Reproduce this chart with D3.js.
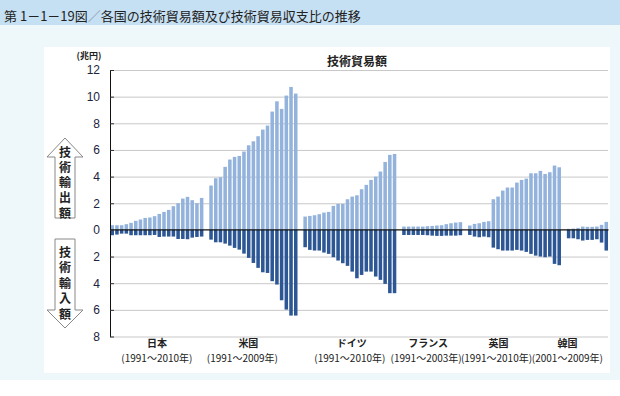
<!DOCTYPE html>
<html>
<head>
    <meta charset="utf-8">
    <title>各国の技術貿易額</title>
    <script src="https://cdn.jsdelivr.net/npm/d3@7/dist/d3.min.js"></script>
    <style>
        body { margin: 0; background: #fff; }
        svg { display: block; }
        text { font-family: "Noto Sans CJK JP", sans-serif; }
    </style>
</head>
<body>
<svg id="chart" width="620" height="396"></svg>
<script>
    // countries and the year ranges printed under them
    const countries = ["日本", "米国", "ドイツ", "フランス", "英国", "韓国"]
    const periods = ["(1991～2010年)", "(1991～2009年)", "(1991～2010年)", "(1991～2003年)", "(1991～2010年)", "(2001～2009年)"]

    // technology exports (兆円)
    const japanExports = [0.35, 0.35, 0.35, 0.43, 0.53, 0.68, 0.78, 0.9, 0.93, 1.03, 1.2, 1.35, 1.5, 1.78, 2.0, 2.35, 2.48, 2.23, 2.0, 2.4]
    const usExports = [3.33, 3.88, 3.95, 4.73, 5.28, 5.48, 5.55, 5.88, 6.35, 6.65, 7.03, 7.53, 7.83, 8.88, 9.65, 9.08, 10.08, 10.73, 10.23]
    const germanyExports = [1.0, 1.05, 1.1, 1.18, 1.3, 1.35, 1.8, 1.95, 1.95, 2.3, 2.5, 2.6, 3.05, 3.38, 3.75, 4.0, 4.38, 5.1, 5.63, 5.7]
    const franceExports = [0.25, 0.25, 0.25, 0.25, 0.25, 0.28, 0.3, 0.33, 0.35, 0.43, 0.5, 0.55, 0.58]
    const ukExports = [0.33, 0.45, 0.5, 0.6, 0.65, 2.3, 2.5, 2.95, 3.18, 3.18, 3.55, 3.75, 3.85, 4.25, 4.25, 4.43, 4.2, 4.33, 4.83, 4.7]
    const koreaExports = [0.08, 0.1, 0.15, 0.25, 0.23, 0.23, 0.25, 0.38, 0.6]

    // technology imports (兆円), drawn below zero
    const japanImports = [0.4, 0.35, 0.28, 0.28, 0.4, 0.4, 0.4, 0.4, 0.4, 0.38, 0.53, 0.5, 0.5, 0.5, 0.68, 0.68, 0.7, 0.58, 0.53, 0.5]
    const usImports = [0.73, 0.93, 0.93, 1.03, 1.18, 1.35, 1.48, 1.78, 2.1, 2.48, 2.85, 3.18, 3.23, 3.85, 4.1, 5.28, 5.98, 6.43, 6.43]
    const germanyImports = [1.3, 1.5, 1.55, 1.55, 1.7, 1.8, 2.05, 2.3, 2.5, 2.7, 3.13, 3.63, 3.38, 3.13, 3.13, 3.5, 3.75, 4.05, 4.75, 4.75]
    const franceImports = [0.38, 0.38, 0.38, 0.38, 0.38, 0.4, 0.43, 0.45, 0.45, 0.43, 0.43, 0.43, 0.4]
    const ukImports = [0.38, 0.5, 0.55, 0.5, 0.55, 1.33, 1.45, 1.55, 1.55, 1.55, 1.5, 1.55, 1.65, 1.8, 1.93, 2.0, 2.05, 2.0, 2.55, 2.65]
    const koreaImports = [0.63, 0.63, 0.7, 0.8, 0.75, 0.75, 0.7, 0.95, 1.55]

    const yTicks = [12, 10, 8, 6, 4, 2, 0, -2, -4, -6, -8]

    const exportsAll = [japanExports, usExports, germanyExports, franceExports, ukExports, koreaExports]
    const importsAll = [japanImports, usImports, germanyImports, franceImports, ukImports, koreaImports]

    // one slot per year, one empty slot between countries
    let bars = []
    let groups = []
    let slot = 0
    countries.forEach((c, ci) => {
        let first = slot
        exportsAll[ci].forEach((v, i) => {
            bars.push({slot: slot, exp: v, imp: importsAll[ci][i]})
            slot++
        })
        groups.push({name: c, period: periods[ci], first: first, last: slot - 1})
        slot++
    })

    const svg = d3.select("#chart")

    // backgrounds
    svg.append("rect").attr("x", 0).attr("y", 0).attr("width", 620).attr("height", 380).attr("fill", "#eef8fa")
    svg.append("rect").attr("x", 0).attr("y", 0).attr("width", 620).attr("height", 25).attr("fill", "#c6e0f3")
    svg.append("rect").attr("x", 44).attr("y", 47).attr("width", 566).attr("height", 326).attr("fill", "#fff")

    // title
    let title = svg.append("text").attr("x", 4).attr("y", 20.5).attr("font-size", 13).attr("fill", "#222")
    title.append("tspan").text("第 1－1－19図")
    title.append("tspan").attr("fill", "#8a9ab0").text("／")
    title.append("tspan").text("各国の技術貿易額及び技術貿易収支比の推移")

    const x = d3.scaleBand()
        .domain(d3.range(slot - 1))
        .range([110, 608.5])
        .paddingInner(0.25)
        .paddingOuter(0.1)

    const y = d3.scaleLinear().domain([-8, 12]).range([336.5, 70])

    // gridlines
    svg.append("g")
        .attr("transform", "translate(110,0)")
        .call(d3.axisRight(y).tickValues(yTicks.filter(d => d != 0)).tickSize(498).tickFormat(""))
        .call(g => g.select(".domain").remove())
        .selectAll("line").attr("stroke", "#c8c8c8")

    // bars
    svg.append("g").selectAll("rect.exp")
        .data(bars)
        .enter()
        .append("rect")
        .attr("class", "exp")
        .attr("x", d => x(d.slot))
        .attr("width", x.bandwidth())
        .attr("y", d => y(d.exp))
        .attr("height", d => y(0) - y(d.exp))
        .attr("fill", "#93b3dc")

    svg.append("g").selectAll("rect.imp")
        .data(bars)
        .enter()
        .append("rect")
        .attr("class", "imp")
        .attr("x", d => x(d.slot))
        .attr("width", x.bandwidth())
        .attr("y", y(0))
        .attr("height", d => y(-d.imp) - y(0))
        .attr("fill", "#2d5694")

    // zero line
    svg.append("line")
        .attr("x1", 110).attr("x2", 608.5)
        .attr("y1", y(0)).attr("y2", y(0))
        .attr("stroke", "#111").attr("stroke-width", 1.2)

    // y axis
    let yAxis = svg.append("g")
        .attr("transform", "translate(110,0)")
        .call(d3.axisLeft(y).tickValues(yTicks).tickFormat(d => Math.abs(d)).tickSize(-4).tickSizeOuter(0).tickPadding(10))
    yAxis.select(".domain").attr("stroke", "#111")
    yAxis.selectAll("line").attr("stroke", "#333")
    yAxis.selectAll("text").attr("font-size", 12).attr("fill", "#1c2440")
        .style("font-family", "'Liberation Sans', Arial, sans-serif")

    svg.append("text").attr("x", 89).attr("y", 59).attr("text-anchor", "middle")
        .attr("font-size", 9).attr("font-weight", "bold").attr("fill", "#222").text("(兆円)")

    svg.append("text").attr("x", 357).attr("y", 66).attr("text-anchor", "middle")
        .attr("font-size", 12).attr("font-weight", "bold").attr("fill", "#222").text("技術貿易額")

    // category labels under the groups
    const nameShift = [0, -5, 2, -4, -16, -20]
    const periodShift = [0, -11, 0, -6, -18, -20]
    groups.forEach((g, i) => {
        let cx = (x(g.first) + x(g.last) + x.bandwidth()) / 2
        svg.append("text").attr("x", cx + nameShift[i]).attr("y", 347).attr("text-anchor", "middle")
            .attr("font-size", 10).attr("font-weight", "bold").attr("fill", "#222").text(g.name)
        svg.append("text").attr("x", cx + periodShift[i]).attr("y", 361.5).attr("text-anchor", "middle")
            .attr("font-size", 10).attr("fill", "#222").text(g.period)
    })

    // arrows on the left
    const upArrow = "M65,138 L83,157 L75,157 L75,218 L55,218 L55,157 L47,157 Z"
    const downArrow = "M65,328 L83,310 L75,310 L75,239 L55,239 L55,310 L47,310 Z"
    svg.append("path").attr("d", upArrow).attr("fill", "#fff").attr("stroke", "#888").attr("stroke-width", 1)
    svg.append("path").attr("d", downArrow).attr("fill", "#fff").attr("stroke", "#888").attr("stroke-width", 1)

    // vertical labels inside the arrows
    svg.append("text").attr("x", 65).attr("y", 146)
        .style("writing-mode", "vertical-rl").style("letter-spacing", "3.3px")
        .attr("font-size", 12).attr("font-weight", "bold").attr("fill", "#222").text("技術輸出額")
    svg.append("text").attr("x", 65).attr("y", 246)
        .style("writing-mode", "vertical-rl").style("letter-spacing", "3.5px")
        .attr("font-size", 12).attr("font-weight", "bold").attr("fill", "#222").text("技術輸入額")
</script>
</body>
</html>
